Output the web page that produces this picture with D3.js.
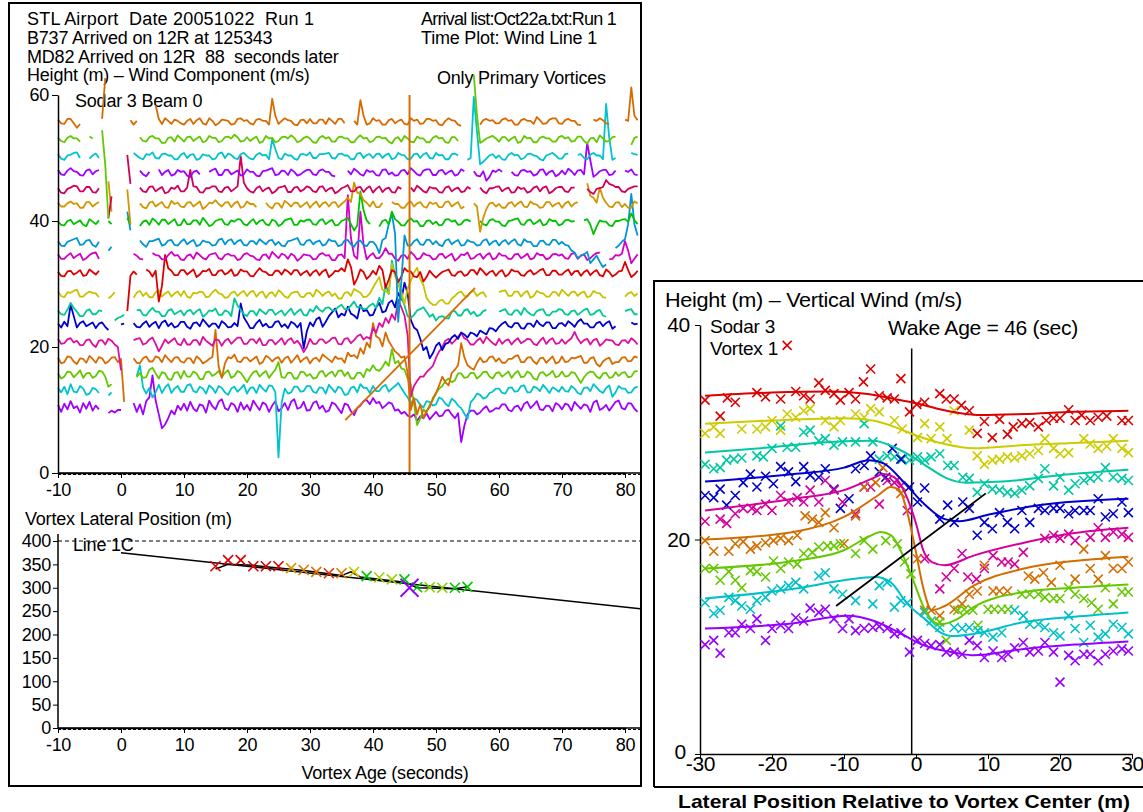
<!DOCTYPE html>
<html>
<head>
<meta charset="utf-8">
<script src="https://cdn.jsdelivr.net/npm/d3@7"></script>
<style>
  body { margin: 0; background: #fff; }
  svg text { font-family: "Liberation Sans", Arial, sans-serif; fill: #000; white-space: pre; }
  .lt { font-size: 18px; letter-spacing: -0.2px; }
  .rt { font-size: 21px; letter-spacing: -0.3px; }
  .rs { font-size: 19px; letter-spacing: -0.2px; }
  .tickL text { font-size: 18px; letter-spacing: -0.3px; }
  .tickR text { font-size: 21px; letter-spacing: -0.3px; }
  .bold { font-size: 19px; font-weight: bold; }
</style>
</head>
<body>
<svg id="chart" width="1143" height="812"></svg>
<script>
const n = null; // missing sodar sample

// ---------- Sodar 3 beam 0 wind traces (height + scaled wind component) ----------
const traceHeights = [10.5, 13.2, 15.6, 17.9, 20.8, 23.5, 25.4, 28.3, 31.7, 34.3, 36.5, 39.7, 42.5, 44.9, 47.6, 50.2, 52.9, 55.7];
const traceColors = ["#a000ff", "#00c3cd", "#64c800", "#d86b00", "#dc0fa0", "#0000d2", "#00c896", "#c8c300", "#dc0000",
                     "#d200c8", "#0096d2", "#00c300", "#d29600", "#d2005a", "#a000ff", "#00c3cd", "#64c800", "#d86b00"];
const traceStart = -10, traceStep = 0.5;               // seconds of vortex age
// offset of each trace from its gate height, in decimetres of plot height (n = no data)
const traceOffsetsDm = [
  [3,-8,5,-4,9,-2,1,-9,6,-3,8,-6,2,-4,n,n,-10,-6,-9,-5, -5,n,n,n,6,-8,4,-12,9,15,50,10,-12,-34,-28,-18,-6,-12,2,-5, 5,-6,8,-3,-7,4,2,-9,10,1,-4,8,12,-2,-5,6,3,-8,7,-4, 3,-6,10,2,-5,7,4,-8,2,9,-7,-2,6,-5,8,12,-3,-1,8,-6, -5,6,9,-3,2,-8,-6,7,4,-3,-10,5,3,-7,-13,-2,2,9,11,4, 14,6,8,-2,2,7,5,-6,-4,-11,-8,-14,-16,-12,-22,-15,-18,-10,-20,-14, -8,-15,-14,-6,-5,-12,-18,-10,-56,-30,-12,-6,-6,-12,-9,-3,1,-8,-6,-2, -3,4,4,-5,-7,0,2,-6,5,8,-2,3,9,-4,-5,2,1,-7,6,3, -4,5,3,-6,8,2,-3,4,2,-8,7,10,-5,-2,3,-6,1,8,10,-2, -4,6,5,-3,-8],
  [3,-4,5,-7,9,-3,-4,6,2,-8,-6,3,1,-5,n,n,-9,-4,n,n, n,n,n,n,n,22,39,4,-6,3,-12,-4,8,-5,4,9,-5,2,6,-3, -3,7,9,-2,-4,5,2,-6,7,3,-5,6,3,-4,-8,2,5,-3,2,8, -6,3,4,-5,8,2,-3,7,6,-4,-107,-20,2,-6,-4,5,5,-3,-2,6, 6,-3,-5,4,3,-6,8,2,-4,5,2,-8,-7,3,5,-4,9,3,3,-5, 6,-2,-2,5,8,-3,2,6,11,3,-5,-12,-22,-14,-16,-24,-28,-18,-19,-25, -23,-12,-15,-22,-26,-14,-18,-25,-29,-38,-46,-20,-14,-6,-8,-14,-12,-5,-3,2, 2,-5,-6,3,4,-3,-2,6,7,-4,-4,5,3,-2,8,2,-5,4,1,-3, 5,-2,-3,6,2,-5,-7,3,4,-2,9,4,-2,-5,3,7,-11,-4,6,2, 2,-5,-4,3,5],
  [2,-6,-3,5,4,-4,1,7,-5,2,3,-5,-2,6,5,-3,-19,-15,n,n, n,n,n,n,n,-4,3,-5,-4,8,11,2,-6,4,2,-7,-8,3,4,-6, 6,-3,-3,5,2,-7,-7,4,5,-2,1,6,-4,3,7,-5,-2,6,3,-4, -12,-3,4,6,-3,2,6,-5,2,8,20,-4,-5,3,3,-6,-6,5,4,-2, 1,-6,-5,4,6,-3,2,5,-3,6,7,-2,4,-6,-6,3,3,-4,9,6, 15,8,6,12,21,14,40,18,22,10,8,-6,-15,-45,-80,-70,-55,-60,-48,-40, -30,-22,-18,-10,-6,-12,-9,2,2,-5,-4,3,3,-6,-2,4,5,-3,-6,2, 4,-3,1,5,-5,2,6,-4,-3,5,2,-6,-8,3,4,-2,1,6,-4,-2, 5,-3,-2,4,3,-5,-13,-4,2,5,4,-3,-6,2,3,-5,-4,4,-2,3, 4,-4,-3,5,6],
  [4,-5,-3,6,5,-2,-6,3,2,-4,7,2,-4,5,3,-5,-2,4,5,-3, 2,-66,n,n,3,-4,-5,3,6,-2,-2,6,4,-3,8,2,-3,4,5,-2, -4,3,3,-5,6,2,-5,-2,2,5,48,-10,-28,-5,5,3,9,-2,-3,4, 4,-2,2,6,-6,-3,7,4,-2,3,5,-4,3,6,-4,2,8,-3,2,5, -5,2,4,-2,9,5,1,-3,6,2,3,-4,12,6,8,3,19,10,28,20, 59,38,35,22,44,30,22,14,10,4,6,-20,-79,-60,-86,-70,-92,-80,-75,-60, -52,-40,-26,-35,-40,-20,-15,-8,27,5,-8,-12,-15,-4,4,-3,-2,5,6,-2, 3,-4,-4,2,2,6,8,-3,-3,4,5,-2,-6,3,4,-4,1,6,-5,-3, 6,-3,-2,4,3,5,7,-4,-4,3,5,-6,-10,-2,2,4,-6,-3,-3,4, 5,-2,-1,6,4],
  [5,-3,-2,4,6,-1,2,-5,-5,3,4,-4,-8,2,3,-4,5,2,-4,-8, -45,n,n,n,3,5,6,-4,-2,4,7,-3,-15,-6,4,-2,2,6,-3,-5, 5,-4,-4,3,3,-5,8,2,-2,-6,4,3,-6,2,5,-3,2,7,7,-3, -3,4,4,-2,6,-5,-5,3,3,-4,1,6,-4,3,6,-2,2,-5,-16,-8, 5,-3,-3,4,4,-2,1,6,7,-3,-4,5,6,-2,3,9,12,4,8,5, 22,15,30,24,38,30,44,35,67,55,42,10,-87,-70,-62,-55,-55,-48,-43,-38, -25,-15,-8,2,5,-3,2,8,14,6,3,-4,-4,2,6,-2,8,3,-2,-5, 5,-3,2,4,-4,2,6,-2,1,5,4,-3,-5,2,7,-3,3,6,-3,-2, 4,-3,2,6,16,5,-2,3,5,-4,3,5,-6,-2,4,3,2,-4,-5,2, 3,-2,6,2,-4],
  [2,-4,5,-2,32,14,-4,3,6,-2,1,4,-5,2,4,-3,-8,n,n,n, 1,2,n,n,3,-3,-4,2,6,-3,2,5,-5,4,7,-2,3,-4,-2,5, 5,-3,-6,3,4,-2,9,3,-3,2,2,-5,6,2,-4,-3,3,-2,34,12, 4,-5,-5,3,8,-2,2,-4,-3,5,6,-3,1,-5,5,2,-4,3,-37,-10, 4,-2,9,12,-3,5,14,20,26,12,18,15,29,18,15,10,32,22,24,15, 16,28,35,20,22,35,39,28,51,40,67,50,8,-4,-8,-22,-40,-35,-53,-45, -33,-28,-40,-30,-28,-20,-16,-22,-12,-15,-20,-12,-14,-18,-9,-12,-15,-5,-6,-10, -3,2,5,-2,-4,3,3,-5,-6,2,2,-3,7,1,-2,4,4,-5,-5,2, 3,-2,6,2,-3,5,9,2,2,-4,-4,3,5,-2,3,6,-6,-2,n,n, n,n,4,1,2],
  [4,-2,-3,5,16,8,2,-5,-5,3,6,-2,-2,4,3,n,n,n,-12,-8, -6,-3,n,n,n,4,5,-3,-4,3,8,2,2,-5,-5,4,6,-2,1,4, -4,3,5,-2,3,6,-6,-2,4,3,7,-3,-3,4,2,-5,23,12,5,-2, -5,3,3,-4,6,2,-2,5,5,-3,1,4,-4,2,7,-3,2,6,-3,-4, 6,2,11,5,2,8,9,4,4,10,13,6,6,12,18,9,10,6,7,12, 15,8,24,14,46,30,83,60,52,25,12,-5,-8,-3,4,6,9,2,-6,-2, -12,-6,-5,-8,-9,2,3,-4,-4,4,6,-2,2,-5,-3,3,5,n,n,n, 2,4,6,-2,-3,4,4,-3,8,2,-2,-4,3,5,6,-3,-4,2,2,6, 5,-2,-3,3,4,-3,1,5,7,-3,-2,3,5,-4,-6,n,n,n,n,n, 3,5,6,-2,-2],
  [5,-2,-4,4,3,6,8,-3,-3,2,5,3,2,-4,n,n,-6,-2,4,n, n,n,n,n,-5,3,6,-2,3,-4,-4,4,7,-3,2,5,-3,2,5,-2, 6,-3,-5,3,2,5,4,-4,-3,4,8,2,1,-5,-4,3,5,-2,3,6, -2,4,6,-3,3,5,-5,2,4,-3,7,3,-3,-5,2,4,5,-3,-4,2, 3,-3,8,4,-2,3,5,-2,2,-6,-6,3,4,-2,9,6,3,-4,-3,2, 11,20,28,8,6,2,49,30,18,5,-15,10,22,35,43,25,15,-5,-12,-16, -16,-10,-8,-14,-14,-6,-2,3,5,-2,-3,4,6,-2,2,4,-4,n,n,n, 4,6,7,-2,-2,5,5,-3,3,6,-5,-2,6,3,2,-3,-3,4,4,-2, 8,3,-2,4,5,-2,3,5,-4,-2,6,3,2,-4,-5,n,n,n,n,n, -3,2,4,-2,2],
  [2,-4,-5,3,4,-2,1,5,-4,-3,6,2,-2,4,n,n,n,n,n,n, n,n,-60,-4,3,-2,n,n,6,3,-5,4,-45,-20,29,8,4,-3,-3,5, 5,-2,2,6,-6,-2,4,3,7,-3,-3,4,5,-2,1,6,-4,-2,6,3, 3,-4,-5,2,8,3,2,-3,-3,4,4,-2,6,3,-2,5,5,-3,1,4, -4,2,5,-3,3,6,-6,-2,4,3,8,3,22,10,-18,-8,6,2,-9,-4, 4,-2,12,5,-23,-10,5,2,-14,-5,8,3,3,-5,-6,2,-13,-6,4,-2, -7,-2,2,4,6,-3,-4,2,3,-4,-2,5,5,-2,8,3,-3,2,4,-4, 2,5,-5,-2,6,3,3,-3,-4,2,5,-2,1,5,7,-3,-3,4,4,-2, -2,3,6,-3,3,4,-4,2,5,-3,2,5,-3,-5,6,2,-5,-2,3,4, 18,5,-6,-2,4],
  [4,-3,-3,2,6,-2,2,5,-5,-2,3,6,7,-3,n,n,-4,n,n,n, n,n,n,n,5,2,-3,-4,n,n,6,3,2,-4,-4,3,8,2,3,-4, -5,2,4,-3,7,3,-2,-4,3,5,6,-2,-4,3,5,2,2,-5,-3,4, 6,2,1,-4,-5,3,4,-3,8,3,-2,5,3,-3,5,2,-6,-2,4,3, 2,-4,-3,4,6,2,3,-5,-5,3,4,-2,98,30,2,-3,72,20,-4,2, 6,-2,-2,4,14,5,5,-3,-6,2,3,-3,8,3,-4,-2,6,3,2,-4, -3,4,5,-2,2,5,-6,-2,4,3,7,-3,-2,3,5,-3,3,6,-4,-2, 6,2,2,-3,-3,4,5,-2,1,5,-4,-2,6,3,3,-4,-2,4,5,2, 4,-2,-3,5,6,-3,2,4,-5,-2,3,6,7,n,n,-4,-3,3,2,5, 25,10,-10,-3,4],
  [3,-4,-5,2,4,6,8,-3,-2,4,5,-3,-6,2,n,n,-12,-6,n,n, n,n,50,20,n,n,4,-2,-6,3,3,5,7,-4,-2,4,5,-3,-4,2, 6,-2,2,5,-5,-3,4,2,1,-4,-3,5,7,-2,4,6,-2,3,5,-3, -4,3,3,-2,6,2,-2,4,5,-3,2,-4,-5,3,4,6,8,-2,-3,4, 5,-2,2,4,-4,-2,6,3,3,-5,-3,4,5,-2,-6,2,4,-3,-5,2, 2,-4,-16,5,8,30,46,15,-125,-60,12,-4,-4,3,6,-2,-3,5,5,-2, 3,-3,-5,4,6,-2,2,5,-4,-3,5,2,1,-4,-3,4,6,-3,2,4, -4,2,5,-2,3,6,-2,-4,6,2,2,-5,-5,3,4,-2,-3,5,5,-2, 2,-3,-4,-12,-15,-24,-20,-18,-14,-32,-26,-20,-30,-38,-34,n,n,-8,-4,2, 6,30,78,30,12],
  [2,-3,-4,3,5,-2,1,4,-3,-5,6,2,-2,4,n,n,3,-2,n,n, n,n,8,-3,n,n,-5,2,4,-3,7,3,-3,5,5,-2,2,6,-4,-3, 6,-2,-2,4,4,-3,8,2,-5,-3,3,5,6,-2,-3,4,2,6,5,-2, -4,2,6,-2,3,5,-2,-4,5,3,-5,-2,4,6,7,-3,-3,4,2,5, 5,-2,-3,4,6,-2,2,5,-4,-3,3,5,8,-2,-12,-4,50,20,4,-2, n,n,-6,3,5,-2,18,6,2,-4,-4,3,7,2,3,-5,-5,3,4,-2, 2,-4,-3,5,6,2,4,-3,-2,4,5,2,n,n,3,-2,-4,4,6,2, 2,-4,-5,3,4,6,7,-2,-3,4,5,-2,1,5,-4,-2,6,3,3,-4, -2,4,5,2,3,n,n,4,6,-3,-18,-6,4,2,2,-4,-5,3,3,5, 6,2,15,4,-2],
  [4,-2,-2,3,6,2,3,-4,-4,5,5,-2,2,5,n,n,38,-10,n,n, n,n,25,-30,n,n,3,-3,-5,4,6,-2,2,5,-3,-4,7,2,4,-2, -3,4,5,-2,2,6,-6,-2,4,3,8,2,-2,4,5,-3,3,6,-4,-2, 6,2,2,-3,n,n,4,-2,-5,3,3,-4,7,3,-2,4,4,-3,1,5, -4,2,6,-3,3,5,-2,4,5,-3,2,6,12,5,36,20,18,8,4,-2, 6,-3,-3,4,n,n,5,2,2,-4,-4,3,6,-2,3,5,-2,-4,5,2, 4,-3,-3,5,6,-2,2,5,-5,-2,n,n,3,-2,-42,-20,-6,3,4,-2, 2,-4,-4,3,5,-2,3,6,-2,-3,6,2,1,-4,-3,5,5,-2,2,4, -4,3,6,-2,3,5,n,n,35,15,12,4,28,12,4,-2,-3,4,5,-3, 2,-4,-4,6,3],
  [3,-4,-5,2,4,7,6,-2,-2,5,5,-3,-4,3,n,n,-45,-10,n,n, n,n,56,10,n,n,4,-2,-3,5,6,-2,2,5,-5,-3,4,2,7,-2, -2,4,32,6,5,-3,-4,3,3,6,6,-2,-3,4,5,-2,2,6,54,12, 3,-2,-4,3,6,-2,2,4,-5,-2,4,5,7,-3,-3,4,5,-2,1,6, 4,-2,-3,5,6,-2,2,4,-5,-2,3,5,8,-2,-2,4,5,-3,3,6, -4,2,6,-3,2,4,-3,-4,5,2,n,n,4,-2,7,3,-2,-4,5,3, 3,-3,-4,4,6,-2,2,4,-3,-2,5,2,n,n,4,-2,-5,3,3,5, 6,-2,2,4,-4,-3,5,2,3,-4,-2,4,6,-2,4,6,-5,-2,3,5, 5,-2,-3,4,4,n,n,n,2,-3,-6,2,3,5,16,10,8,5,5,-2, -3,2,4,6,6],
  [5,-2,-3,4,8,3,2,-3,-4,4,6,-2,3,5,n,n,n,n,n,n, n,n,n,n,n,n,4,-2,-5,2,n,n,6,-3,2,5,-4,-2,5,2, 3,-4,-6,2,4,-2,n,n,2,5,7,-3,-3,5,5,-2,1,4,-4,-2, 6,2,2,-4,-5,3,4,6,8,-3,-2,4,3,-3,6,2,-4,-2,2,5, 5,-2,-3,4,6,2,2,-4,-5,n,n,n,4,-2,7,3,-2,-4,5,2, 3,-3,-4,5,6,-2,1,-4,-3,4,5,-2,8,3,-2,-4,4,6,6,-3, -3,4,5,-2,2,4,-4,-2,6,3,n,n,3,-4,-5,3,-12,-6,4,2, 6,2,n,n,2,-3,-4,4,5,2,3,-4,-2,5,6,-3,2,4,-5,-2, 4,-2,7,3,-3,4,5,-2,48,20,-6,-2,3,5,5,-3,-2,4,n,n, 4,2,6,-2,-3],
  [4,-3,-5,2,3,6,7,-2,n,n,-3,2,5,-2,n,n,n,n,n,n, n,n,n,n,6,2,-2,-4,4,3,7,-2,-3,4,5,2,2,-4,-4,3, 6,-2,3,4,-5,-3,4,2,2,-4,-3,5,7,-2,5,3,-2,-4,4,6, 1,-3,-4,3,6,2,3,-4,28,12,-2,-4,5,2,2,-3,-5,4,4,2, 7,-2,-2,4,4,5,6,-2,-3,4,5,2,2,-4,-4,5,6,-2,3,4, -2,4,5,-2,3,5,-4,-2,6,3,2,-4,-3,4,5,-2,4,6,-2,-3, 6,2,3,-4,-4,4,5,2,n,n,-5,-2,95,40,-12,-8,-3,2,4,-2, 2,-4,-5,3,6,2,3,-4,-2,4,5,2,1,-4,-6,2,4,6,2,-3, -3,4,5,n,n,3,4,-2,-4,3,6,2,2,-4,84,30,-5,-2,n,n, n,n,6,4,3],
  [3,-2,-4,3,6,2,2,-3,n,n,5,2,n,n,15,-40,-125,n,n,n, n,n,n,n,n,n,4,-2,-3,4,6,2,2,-5,-5,3,4,-3,7,2, -3,4,5,-2,2,5,-4,-2,6,3,3,-4,-2,4,5,2,8,4,-3,-2, 4,-2,2,5,-5,-3,6,2,3,-4,-2,4,5,2,7,3,-4,-2,3,5, 2,-4,-5,3,6,2,4,-3,-3,4,5,2,2,-4,-4,3,7,2,3,-4, -2,4,5,2,3,-3,-6,2,4,-3,6,2,-3,-4,5,2,2,-4,-4,3, 6,2,3,-4,-5,4,4,-2,n,n,n,n,103,40,-5,-2,2,4,6,2, -3,4,4,-2,2,5,-5,-3,6,2,3,-4,-4,3,5,2,2,-3,-3,4, 6,2,4,-3,-2,5,5,-2,-6,2,3,-4,7,2,-3,-2,4,5,n,n, n,n,-8,3,5],
  [4,-2,-3,5,5,-2,-9,-3,n,n,n,n,n,n,5,70,n,n,n,n, n,n,n,3,-4,2,n,n,n,n,n,27,5,-3,6,2,-3,4,2,-2, -4,2,5,-3,3,6,-2,-4,6,2,-5,-2,4,3,2,-4,-3,5,6,2, 3,-2,-4,4,5,2,2,-4,37,10,-3,2,6,3,2,-4,-5,3,4,-2, 5,-2,-2,4,4,-3,6,2,-3,5,5,-2,n,n,2,-4,35,10,-4,-2, 6,2,3,-4,-4,3,5,-2,2,4,-3,-4,6,2,4,-3,-2,5,5,2, 3,-4,-5,2,6,3,2,-4,-6,n,n,n,n,n,-4,3,5,2,3,-2, -2,4,6,2,3,-4,-4,3,5,2,2,-3,8,3,-3,-2,4,6,6,-2, -3,3,5,2,2,-4,-5,n,n,n,4,2,6,3,-2,-3,n,n,n,n, 4,2,55,10,3]
];
const wakeAge = 45.8;                                   // vortex age marker (s)
const slopeAges = [35.6, 56.2], slopeHeights = [8.4, 29.4];

// ---------- vortex lateral position track ----------
const lateralAges      = [15, 17, 19, 21, 23, 25, 27, 29, 31, 33, 35, 37, 39, 41, 43, 45, 47, 49, 51, 53, 55];
const lateralPositions = [346, 359, 359, 346, 346, 346, 342, 338, 334, 331, 331, 334, 325, 322, 318, 318, 301, 301, 300, 300, 302];
const lateralColors    = ["#dc0000","#dc0000","#dc0000","#dc0000","#dc0000","#dc0000","#d89600","#d87800","#d87800","#dc3200","#d87800",
                          "#c8c800","#00c800","#a0d000","#a0d000","#00c800","#00c800","#80d200","#80d200","#00c800","#00c800"];
const trackAges      = [15, 17, 21, 25, 29, 33, 35, 36.5, 38, 45, 47, 53, 55];
const trackPositions = [340, 350, 348, 342, 337, 330, 326, 334, 323, 312, 300, 298, 302];
const currentAge = 45.8, currentPosition = 300;
const fitAges = [0, 82.4], fitPositions = [375, 255];
const latTicks = [0, 50, 100, 150, 200, 250, 300, 350, 400];

// ---------- vertical wind profiles at wake age 46 s ----------
const profileColors = ["#dc0000", "#cccc00", "#00c8a0", "#0000cc", "#d4009c", "#d26e00", "#64c800", "#00c0c8", "#9600ff"];
const profileFits = [
  [[-29.3,33.4],[-20,33.7],[-12,33.8],[-7,33.6],[-3,33.1],[0,32.7],[3,32.2],[6,31.8],[9,31.6],[15,31.7],[22,31.9],[29.5,32.0]],
  [[-29.3,30.8],[-20,31.1],[-10,31.3],[-6,31.1],[-3,30.5],[0,29.7],[4,28.9],[8,28.5],[15,28.8],[22,29.0],[29.5,29.2]],
  [[-29.3,28.1],[-20,28.6],[-12,29.1],[-6,29.2],[-3,28.6],[0,27.5],[2,26.6],[4,25.8],[7,25.3],[12,25.4],[20,26.0],[29.5,26.5]],
  [[-29.3,25.4],[-17,26.1],[-10,26.7],[-6.5,27.4],[-4.5,27.1],[-1.5,25.2],[1,23.4],[4,21.9],[6,21.7],[10,22.3],[17,23.2],[29.5,23.8]],
  [[-29.3,22.7],[-17,23.8],[-10,24.6],[-6,25.7],[-4.5,26.1],[-3,25.8],[-1.5,24.3],[0,21.5],[1,19.0],[2.2,17.9],[4,17.6],[8,18.5],[15,19.7],[22,20.6],[29.5,21.1]],
  [[-29.3,20.0],[-17,20.7],[-10,22.1],[-5.3,24.1],[-3.5,24.9],[-2.3,24.6],[-1.2,22.5],[0,18.8],[1,15.5],[2.2,13.4],[4,13.8],[8,15.7],[15,17.3],[22,18.0],[29.5,18.4]],
  [[-29.3,17.3],[-17,18.0],[-10,19.0],[-6.5,20.3],[-4.9,20.7],[-3.5,20.4],[-1.6,18.2],[-0.5,16.4],[1.2,13.5],[3.3,12.1],[5.8,12.6],[8,13.7],[15,15.1],[22,15.5],[29.5,15.8]],
  [[-29.3,14.5],[-17,15.4],[-10,16.2],[-5.6,16.5],[-3.5,16.0],[-1.2,14.0],[1.2,12.6],[3.5,11.3],[5,11.0],[8,11.2],[15,12.3],[22,12.8],[29.5,13.2]],
  [[-29.3,11.7],[-17,12.2],[-9.5,12.9],[-5.8,12.4],[-2.6,11.4],[1.2,10.1],[5.8,9.4],[8,9.2],[15,9.8],[22,10.2],[29.5,10.5]]
];
const profileMarks = [
  [[-29.3,33.0],[-27.2,31.5],[-26.2,33.2],[-25.1,32.8],[-22.1,33.7],[-20.9,33.3],[-18.8,33.1],[-17.9,38.1],[-16.7,33.8],[-15.6,33.4],[-14.7,33.1],[-13.5,34.6],[-12.6,33.9],[-11.4,33.6],[-10.5,33.0],[-9.3,33.7],[-8.4,33.1],[-7.3,34.7],[-6.3,35.9],[-5.1,33.4],[-4.0,33.2],[-3.0,33.1],[-2.1,35.0],[-0.9,31.9],[0.1,32.6],[1.2,32.8],[3.3,33.6],[4.2,33.1],[5.3,33.1],[6.3,32.5],[7.4,32.0],[8.5,29.9],[9.5,31.0],[10.6,29.5],[11.6,31.2],[12.7,29.8],[13.5,30.5],[14.7,30.8],[15.8,30.9],[17.0,30.5],[18.1,31.1],[19.1,31.3],[20.0,31.3],[21.2,32.1],[22.1,31.1],[23.0,31.6],[24.2,31.1],[25.3,31.4],[26.5,31.5],[28.6,31.1],[29.5,31.1]],
  [[-29.3,29.9],[-28.1,30.5],[-27.2,29.9],[-24.2,30.3],[-22.1,30.3],[-20.9,30.5],[-20.0,31.1],[-18.8,30.2],[-17.9,31.7],[-16.7,31.4],[-15.6,32.0],[-14.7,32.2],[-12.6,31.1],[-11.4,30.5],[-10.5,31.1],[-8.4,31.7],[-7.2,31.4],[-6.3,32.2],[-5.1,31.9],[-3.0,31.1],[-1.9,30.3],[0.2,29.5],[1.2,30.8],[2.1,29.4],[3.3,30.5],[4.3,29.4],[5.3,32.0],[7.4,30.2],[8.5,27.8],[9.5,27.0],[10.6,27.4],[11.6,27.5],[12.7,27.7],[13.7,27.6],[14.7,27.8],[15.8,28.0],[17.0,28.3],[17.9,29.4],[19.1,28.5],[20.0,28.0],[21.2,28.1],[23.3,29.4],[24.2,28.9],[25.3,28.5],[26.5,28.7],[27.4,29.4],[28.6,28.5],[29.5,28.1]],
  [[-29.3,27.0],[-28.1,26.6],[-27.2,26.7],[-26.3,27.4],[-25.3,27.5],[-24.2,27.6],[-22.1,27.8],[-21.2,27.7],[-20.0,28.5],[-18.8,30.6],[-17.9,28.6],[-16.7,28.6],[-15.6,30.0],[-14.7,30.2],[-13.5,29.2],[-12.6,29.4],[-11.4,28.8],[-10.2,29.1],[-8.4,29.1],[-7.2,30.8],[-6.0,29.1],[-5.1,27.5],[-4.0,27.8],[-3.0,27.7],[-1.9,27.5],[-0.9,27.4],[0.2,27.7],[1.2,27.4],[2.1,27.7],[3.3,28.0],[4.4,26.9],[5.3,26.9],[6.5,25.8],[7.4,25.7],[8.5,24.4],[9.5,25.2],[10.6,24.7],[11.6,24.6],[12.7,24.4],[13.7,24.3],[14.7,24.6],[15.8,25.0],[17.0,25.7],[17.9,26.6],[19.1,25.0],[20.0,25.8],[21.2,24.6],[22.1,25.2],[23.3,25.5],[24.2,25.7],[25.3,25.8],[26.3,26.7],[27.4,25.8],[28.6,25.7],[29.5,25.5]],
  [[-29.3,24.1],[-28.1,23.9],[-27.2,24.7],[-26.3,23.2],[-25.1,24.1],[-24.0,25.3],[-23.0,26.1],[-22.1,24.9],[-20.9,25.9],[-19.8,25.2],[-18.8,26.8],[-17.7,26.3],[-16.7,25.4],[-15.6,26.8],[-14.7,26.0],[-13.5,25.8],[-12.6,26.6],[-11.4,24.7],[-10.5,22.9],[-9.3,23.8],[-8.4,26.6],[-7.2,26.9],[-6.3,27.8],[-5.1,26.3],[-4.2,25.8],[-3.3,28.5],[-2.1,27.5],[-0.9,24.9],[0.2,23.5],[1.2,24.8],[3.3,21.9],[4.4,23.2],[5.3,21.6],[6.5,23.5],[7.4,22.9],[8.5,20.4],[9.5,21.6],[10.6,21.0],[11.6,22.5],[12.7,21.6],[13.7,21.0],[14.7,22.7],[15.8,21.6],[17.0,22.9],[17.9,22.7],[19.1,22.9],[20.0,22.9],[21.2,22.4],[22.1,22.7],[23.3,22.7],[24.2,22.7],[25.3,23.8],[26.3,22.1],[27.4,22.4],[28.6,23.5],[29.5,22.5]],
  [[-29.3,21.7],[-27.2,21.9],[-26.3,21.5],[-25.1,22.4],[-24.0,22.9],[-22.8,22.9],[-22.1,22.7],[-20.9,23.3],[-20.0,22.7],[-18.8,24.1],[-17.7,23.5],[-16.5,23.9],[-15.6,23.5],[-14.7,24.6],[-13.5,23.5],[-12.6,25.5],[-11.4,24.6],[-10.2,23.5],[-8.4,22.4],[-7.2,24.9],[-6.3,24.9],[-5.1,23.3],[-4.0,25.5],[-3.0,25.3],[-2.1,25.0],[-1.2,22.7],[1.2,18.2],[3.3,15.4],[4.2,16.5],[5.3,17.3],[6.4,18.7],[7.2,16.5],[8.4,16.3],[9.5,17.3],[10.7,18.5],[11.9,17.9],[12.8,17.9],[13.7,17.7],[14.9,18.8],[17.9,20.1],[19.1,20.4],[20.0,20.1],[21.2,20.5],[22.1,19.9],[24.2,20.2],[25.3,21.1],[26.3,20.2],[27.4,20.7],[28.6,20.5],[29.5,20.2]],
  [[-29.3,19.9],[-28.1,18.9],[-26.0,18.9],[-25.1,19.6],[-24.0,19.8],[-23.0,19.1],[-22.1,19.4],[-20.9,19.7],[-19.8,19.9],[-18.8,20.1],[-17.7,19.9],[-16.5,20.4],[-15.4,22.2],[-14.4,21.9],[-13.5,21.6],[-12.6,22.5],[-11.4,21.1],[-10.0,19.6],[-8.4,22.2],[-7.2,24.9],[-5.6,25.3],[-4.6,26.7],[-2.1,24.3],[0.2,18.2],[1.2,13.4],[2.1,13.4],[3.3,12.9],[5.3,13.5],[6.4,14.0],[7.4,14.9],[8.5,15.2],[9.5,17.6],[10.7,15.2],[11.6,15.2],[12.7,15.2],[15.6,16.6],[16.5,16.3],[17.7,16.9],[18.8,16.0],[20.0,17.6],[22.1,16.3],[23.3,19.1],[24.2,17.3],[25.3,16.3],[26.3,18.5],[27.4,17.3],[28.6,17.3],[29.5,17.9]],
  [[-29.3,17.3],[-28.1,17.3],[-27.2,16.2],[-26.0,17.0],[-25.1,16.2],[-24.2,15.5],[-23.0,17.1],[-22.1,17.0],[-20.9,16.5],[-19.8,18.0],[-18.8,17.3],[-17.7,17.9],[-16.5,17.7],[-15.6,18.7],[-14.4,18.8],[-13.5,19.3],[-12.3,19.4],[-11.4,19.4],[-10.5,19.6],[-8.4,18.7],[-7.2,19.9],[-6.0,19.1],[-4.2,19.9],[-2.6,19.6],[-1.6,17.9],[-0.7,16.8],[3.3,12.3],[4.2,10.6],[5.8,13.4],[6.7,13.5],[7.9,13.4],[8.6,12.0],[10.0,13.5],[10.9,13.5],[11.9,13.5],[12.8,13.5],[14.7,14.9],[15.8,14.9],[17.0,14.9],[17.9,14.6],[19.1,14.5],[20.0,14.5],[21.2,15.5],[22.1,14.9],[23.3,14.5],[24.4,14.1],[25.3,13.5],[26.3,15.5],[27.4,14.0],[28.6,15.1],[29.5,15.1]],
  [[-29.3,14.1],[-28.1,13.1],[-27.2,13.4],[-26.0,14.6],[-25.1,14.3],[-24.2,13.8],[-23.0,13.5],[-22.1,14.3],[-20.9,14.6],[-20.0,15.2],[-18.8,15.4],[-17.7,15.7],[-16.7,16.0],[-15.6,15.4],[-13.5,16.6],[-12.6,16.9],[-11.4,15.4],[-10.2,14.9],[-8.4,14.3],[-6.0,14.0],[-5.1,15.7],[-4.0,16.0],[-3.0,13.7],[-2.1,14.3],[-1.2,14.1],[1.2,13.2],[2.1,12.4],[3.3,11.8],[5.3,11.8],[6.4,11.7],[7.4,11.8],[8.6,11.5],[9.5,11.3],[10.7,10.9],[11.9,11.3],[13.7,13.4],[14.9,12.9],[15.8,12.1],[17.0,12.1],[17.9,11.8],[19.1,11.3],[20.0,11.0],[21.2,12.9],[22.1,11.7],[23.3,10.4],[24.2,12.0],[25.3,10.9],[26.3,11.2],[27.4,12.1],[28.6,11.8],[29.5,11.2]],
  [[-29.3,10.2],[-28.1,10.6],[-27.2,9.4],[-26.0,11.3],[-25.1,11.3],[-24.2,12.1],[-23.0,11.7],[-22.1,12.6],[-20.9,10.6],[-20.0,11.7],[-18.8,12.0],[-17.7,11.7],[-16.7,12.7],[-15.6,12.4],[-14.7,13.6],[-13.5,13.2],[-12.6,13.5],[-11.4,12.6],[-10.2,11.7],[-9.3,12.6],[-8.4,11.5],[-7.2,11.7],[-6.0,11.8],[-5.1,11.9],[-4.0,11.7],[-3.0,11.2],[-2.1,11.3],[-0.9,9.5],[0.2,10.6],[1.2,10.3],[2.1,10.1],[3.3,10.2],[4.2,9.5],[5.3,9.5],[6.4,9.3],[7.4,10.6],[8.5,10.1],[9.5,9.0],[10.7,9.6],[11.9,9.0],[12.8,9.3],[13.7,9.9],[14.9,10.4],[15.8,9.5],[17.0,9.6],[17.9,10.4],[19.1,9.5],[20.0,6.7],[21.2,9.2],[22.1,8.7],[23.3,9.3],[24.2,9.3],[25.3,8.7],[26.3,9.3],[27.4,9.6],[28.6,9.8],[29.5,9.6]]
];
const centerX = -0.6;                                   // vortex centre line (m)
const axisLineX = [-11.1, 9.7], axisLineH = [13.8, 24.3];

// ================= drawing =================
const svg = d3.select("#chart");
const hyphenFormat = d => String(d);                    // plain "-" for negative ticks

svg.append("defs").append("clipPath").attr("id", "leftPanel")
  .append("rect").attr("x", 9).attr("y", 3).attr("width", 632).attr("height", 783);

// panel frames
svg.append("rect").attr("x", 9).attr("y", 3).attr("width", 632).attr("height", 783)
  .attr("fill", "none").attr("stroke", "#000").attr("stroke-width", 2);
svg.append("path").attr("d", "M654,787V281H1150M654,787H1150")
  .attr("fill", "none").attr("stroke", "#000").attr("stroke-width", 2);

// ---------- top-left: wind traces ----------
const xAge = d3.scaleLinear().domain([-10, 80]).range([58, 625]);
const yH = d3.scaleLinear().domain([0, 60]).range([473, 95]);
const ageTicks = d3.range(-10, 81, 10);

const gLeftText = svg.append("g").attr("clip-path", "url(#leftPanel)");
const topHeader = [
  ["STL Airport  Date 20051022  Run 1", 27, 25, "0.2px"],
  ["B737 Arrived on 12R at 125343", 27, 44, null],
  ["MD82 Arrived on 12R  88  seconds later", 27, 63, null],
  ["Height (m) \u2013 Wind Component (m/s)", 27, 81, null],
  ["Arrival list:Oct22a.txt:Run 1", 421, 25, "-0.8px"],
  ["Time Plot: Wind Line 1", 421, 44, null],
  ["Only Primary Vortices", 437, 84, null],
  ["Sodar 3 Beam 0", 75, 107, null]
];
topHeader.forEach(([t, x, y, ls]) => {
  const el = gLeftText.append("text").attr("class", "lt").attr("x", x).attr("y", y).text(t);
  if (ls) el.style("letter-spacing", ls);
});

const gTop = svg.append("g");
const traceLine = d3.line().defined(d => d[1] !== null).x(d => xAge(d[0])).y(d => yH(d[1]));
traceOffsetsDm.forEach((offs, i) => {
  const pts = offs.map((v, j) => [traceStart + j * traceStep, v === null ? null : traceHeights[i] + v / 10]);
  gTop.append("path").attr("d", traceLine(pts)).attr("fill", "none")
    .attr("stroke", traceColors[i]).attr("stroke-width", 1.8).attr("stroke-linejoin", "round");
});
gTop.append("line").attr("x1", xAge(wakeAge)).attr("x2", xAge(wakeAge)).attr("y1", yH(0)).attr("y2", yH(60))
  .attr("stroke", "#d86b00").attr("stroke-width", 2);
gTop.append("line").attr("x1", xAge(slopeAges[0])).attr("y1", yH(slopeHeights[0]))
  .attr("x2", xAge(slopeAges[1])).attr("y2", yH(slopeHeights[1]))
  .attr("stroke", "#d86b00").attr("stroke-width", 1.8);

svg.append("g").attr("class", "tickL").attr("transform", "translate(58,0)")
  .call(d3.axisLeft(yH).tickValues([0, 20, 40, 60]).tickSize(6).tickSizeOuter(0).tickPadding(3));
svg.append("g").attr("class", "tickL").attr("transform", "translate(0,473)")
  .call(d3.axisBottom(xAge).tickValues(ageTicks).tickSize(5).tickSizeOuter(0).tickPadding(5).tickFormat(hyphenFormat));
svg.append("line").attr("x1", 58).attr("x2", 640).attr("y1", 473).attr("y2", 473).attr("stroke", "#000").attr("stroke-width", 1.5);
svg.append("line").attr("x1", 58).attr("x2", 640).attr("y1", 474.5).attr("y2", 474.5).attr("stroke", "#000").attr("stroke-dasharray", "3,2");

// ---------- bottom-left: lateral position ----------
const yLat = d3.scaleLinear().domain([0, 400]).range([728, 541]);
svg.append("text").attr("class", "lt").attr("x", 25).attr("y", 525).text("Vortex Lateral Position (m)");
svg.append("g").attr("class", "tickL").attr("transform", "translate(58,0)")
  .call(d3.axisLeft(yLat).tickValues(latTicks).tickSize(5).tickSizeOuter(0).tickPadding(2))
  .select(".domain").attr("d", "M0,534V728");
svg.append("g").attr("class", "tickL").attr("transform", "translate(0,728)")
  .call(d3.axisBottom(xAge).tickValues(ageTicks).tickSize(5).tickSizeOuter(0).tickPadding(5).tickFormat(hyphenFormat));
svg.append("line").attr("x1", 58).attr("x2", 640).attr("y1", 728).attr("y2", 728).attr("stroke", "#000").attr("stroke-width", 1.5);
svg.append("line").attr("x1", 58).attr("x2", 640).attr("y1", 729.5).attr("y2", 729.5).attr("stroke", "#000").attr("stroke-dasharray", "3,2");
svg.append("line").attr("x1", 58).attr("x2", 640).attr("y1", yLat(400)).attr("y2", yLat(400))
  .attr("stroke", "#000").attr("stroke-dasharray", "4,3");
svg.append("text").attr("class", "lt").attr("x", 73).attr("y", 551).text("Line 1C");
svg.append("text").attr("class", "lt").attr("x", 385).attr("y", 779).attr("text-anchor", "middle").text("Vortex Age (seconds)");

const latLine = d3.line().x(d => xAge(d[0])).y(d => yLat(d[1]));
svg.append("path").attr("d", latLine(fitAges.map((a, i) => [a, fitPositions[i]])))
  .attr("fill", "none").attr("stroke", "#000").attr("stroke-width", 1.5);
svg.append("path").attr("d", latLine(trackAges.map((a, i) => [a, trackPositions[i]])))
  .attr("fill", "none").attr("stroke", "#000").attr("stroke-width", 1.5);

const cross = r => `M${-r},${-r}L${r},${r}M${-r},${r}L${r},${-r}`;
svg.append("g").selectAll("path").data(lateralAges).join("path")
  .attr("transform", (a, i) => `translate(${xAge(a)},${yLat(lateralPositions[i])})`)
  .attr("d", cross(5)).attr("fill", "none").attr("stroke", (a, i) => lateralColors[i]).attr("stroke-width", 1.6);
svg.append("path").attr("transform", `translate(${xAge(currentAge)},${yLat(currentPosition)})`)
  .attr("d", cross(9)).attr("stroke", "#9600ff").attr("stroke-width", 1.8);

// ---------- right: vertical wind profiles ----------
const xRel = d3.scaleLinear().domain([-30, 30]).range([700, 1132]);
const yRel = d3.scaleLinear().domain([0, 40]).range([754, 325]);
svg.append("text").attr("class", "rt").attr("x", 665).attr("y", 307)
  .attr("textLength", 297).attr("lengthAdjust", "spacingAndGlyphs").text("Height (m) \u2013 Vertical Wind (m/s)");
svg.append("text").attr("class", "rs").attr("x", 710).attr("y", 333).text("Sodar 3");
svg.append("text").attr("class", "rs").attr("x", 710).attr("y", 355).text("Vortex 1");
svg.append("text").attr("class", "rt").attr("x", 888).attr("y", 335)
  .attr("textLength", 190).attr("lengthAdjust", "spacingAndGlyphs").text("Wake Age = 46 (sec)");
svg.append("text").attr("class", "bold").attr("x", 678).attr("y", 808)
  .attr("textLength", 452).attr("lengthAdjust", "spacingAndGlyphs")
  .text("Lateral Position Relative to Vortex Center (m)");

const yAxR = svg.append("g").attr("class", "tickR").attr("transform", "translate(700,0)")
  .call(d3.axisLeft(yRel).tickValues([0, 20, 40]).tickSize(5).tickSizeOuter(0).tickPadding(5));
yAxR.selectAll(".tick").filter(d => d === 0).select("text").attr("dx", "-4").attr("dy", "0.2em");
svg.append("g").attr("class", "tickR").attr("transform", "translate(0,754)")
  .call(d3.axisBottom(xRel).tickValues(d3.range(-30, 31, 10)).tickSize(5).tickSizeOuter(0).tickPadding(-3).tickFormat(hyphenFormat));
svg.selectAll(".domain").attr("stroke-width", 1.5);

svg.append("line").attr("x1", xRel(centerX)).attr("x2", xRel(centerX)).attr("y1", yRel(37.8)).attr("y2", yRel(0))
  .attr("stroke", "#000").attr("stroke-width", 1.5);

const fitLine = d3.line().curve(d3.curveMonotoneX).x(d => xRel(d[0])).y(d => yRel(d[1]));
const gProf = svg.append("g");
profileMarks.forEach((marks, i) => {
  gProf.append("g").selectAll("path").data(marks).join("path")
    .attr("transform", d => `translate(${xRel(d[0])},${yRel(d[1])})`)
    .attr("d", cross(4.5)).attr("fill", "none").attr("stroke", profileColors[i]).attr("stroke-width", 1.6);
});
profileFits.forEach((pts, i) => {
  gProf.append("path").attr("d", fitLine(pts)).attr("fill", "none")
    .attr("stroke", profileColors[i]).attr("stroke-width", 2);
});
svg.append("line").attr("x1", xRel(axisLineX[0])).attr("y1", yRel(axisLineH[0]))
  .attr("x2", xRel(axisLineX[1])).attr("y2", yRel(axisLineH[1])).attr("stroke", "#000").attr("stroke-width", 1.8);
</script>
</body>
</html>
